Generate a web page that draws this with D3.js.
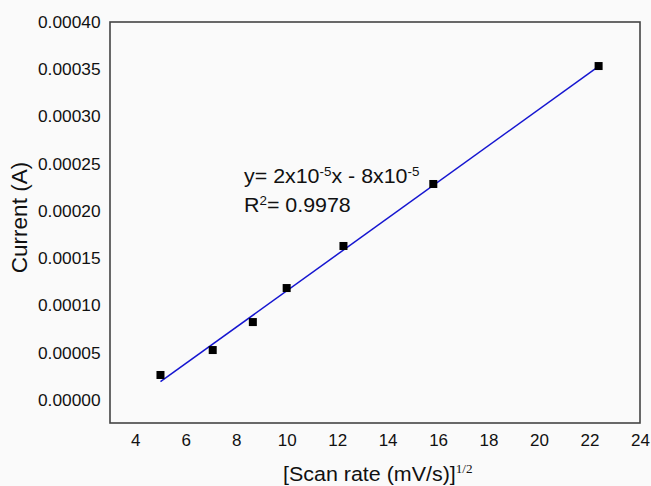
<!DOCTYPE html>
<html><head><meta charset="utf-8">
<script src="https://cdn.jsdelivr.net/npm/d3@7"></script>
<style>
html,body{margin:0;padding:0;background:#fafafa;}
svg{display:block;font-family:"Liberation Sans",Arial,sans-serif;}
</style></head>
<body>
<svg id="c" width="651" height="486"></svg>
<script>
const scanRateSqrt = [5.0, 7.07, 8.66, 10.0, 12.25, 15.81, 22.36];
const currentA = [0.0000265, 0.0000529, 0.0000825, 0.0001185, 0.000163, 0.0002286, 0.0003534];
const fitX = [5.0, 22.36];
const fitY = [0.0000194, 0.000353];
const xTicks = [4, 6, 8, 10, 12, 14, 16, 18, 20, 22, 24];
const yTicks = [0, 0.00005, 0.0001, 0.00015, 0.0002, 0.00025, 0.0003, 0.00035, 0.0004];

const svg = d3.select("#c");
const L = 110, R = 640, T = 22, B = 423;
const x = d3.scaleLinear().domain([3, 24]).range([L, R]);
const y = d3.scaleLinear().domain([-0.0000243, 0.0004]).range([B, T]);
const SX = 1.07;

svg.append("rect").attr("width", 651).attr("height", 486).attr("fill", "#fafafa");

const yAx = svg.append("g").attr("transform", `translate(${L},0)`)
  .call(d3.axisLeft(y).tickValues(yTicks).tickSize(0).tickPadding(9).tickFormat(d3.format(".5f")));
yAx.select(".domain").remove();
yAx.selectAll("text").attr("font-size", 16.5).attr("fill", "#111")
  .attr("font-family", "Liberation Sans, Arial, sans-serif").attr("transform", `scale(${1.05},1)`);

const xAx = svg.append("g").attr("transform", `translate(0,${B})`)
  .call(d3.axisBottom(x).tickValues(xTicks).tickSize(0).tickPadding(11).tickFormat(d3.format("d")));
xAx.select(".domain").remove();
xAx.selectAll("text").attr("font-size", 17).attr("fill", "#111")
  .attr("font-family", "Liberation Sans, Arial, sans-serif");

svg.append("rect").attr("x", L).attr("y", T).attr("width", R - L).attr("height", B - T)
  .attr("fill", "none").attr("stroke", "#444").attr("stroke-width", 1.6);

const line = d3.line().x(d => x(d[0])).y(d => y(d[1]));
svg.append("path").datum(fitX.map((v, i) => [v, fitY[i]]))
  .attr("d", line).attr("stroke", "#1515d0").attr("stroke-width", 1.5).attr("fill", "none");

const s = 8;
svg.selectAll("rect.pt").data(scanRateSqrt).join("rect").attr("class", "pt")
  .attr("x", (d) => x(d) - s / 2).attr("y", (d, i) => y(currentA[i]) - s / 2)
  .attr("width", s).attr("height", s).attr("fill", "#000");

// equation
const eqG = svg.append("g").attr("transform", `translate(244,183) scale(${SX},1)`);
const eq = eqG.append("text").attr("x", 0).attr("y", 0).attr("font-size", 20).attr("fill", "#111");
eq.append("tspan").text("y= 2x10");
eq.append("tspan").attr("dy", -7).attr("font-size", 12.5).text("-5");
eq.append("tspan").attr("dy", 7).text("x - 8x10");
eq.append("tspan").attr("dy", -7).attr("font-size", 12.5).text("-5");
const r2 = eqG.append("text").attr("x", 0).attr("y", 29).attr("font-size", 20).attr("fill", "#111");
r2.append("tspan").text("R");
r2.append("tspan").attr("dy", -7).attr("font-size", 12.5).text("2");
r2.append("tspan").attr("dy", 7).text("= 0.9978");

// axis titles
const xlG = svg.append("g").attr("transform", `translate(283,481) scale(1.1,1)`);
const xl = xlG.append("text").attr("font-size", 19.5).attr("fill", "#111");
xl.append("tspan").text("[Scan rate (mV/s)]");
xl.append("tspan").attr("dy", -8).attr("font-size", 12).attr("font-family", "Liberation Serif, Times New Roman, serif").text("1/2");

svg.append("text").attr("transform", `translate(27,${(T + B) / 2 - 5}) rotate(-90)`)
  .attr("text-anchor", "middle").attr("font-size", 22.5).attr("fill", "#111").text("Current (A)");
</script>
</body></html>
